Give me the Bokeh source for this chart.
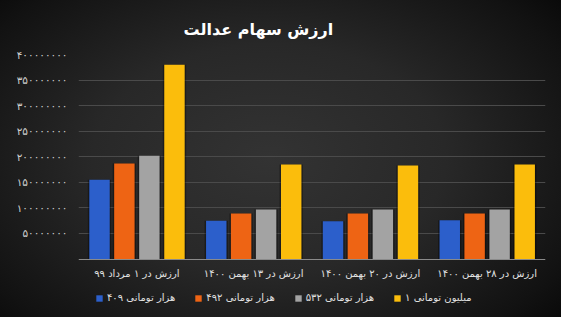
from bokeh.plotting import figure
from bokeh.models import FactorRange, FixedTicker, Legend, InlineStyleSheet, ColumnDataSource
from bokeh.transform import dodge
from bokeh.embed import file_html
from bokeh.resources import INLINE

title_text = "ارزش سهام عدالت"
categories = ["ارزش در ۱ مرداد ۹۹", "ارزش در ۱۳ بهمن ۱۴۰۰", "ارزش در ۲۰ بهمن ۱۴۰۰", "ارزش در ۲۸ بهمن ۱۴۰۰"]
series_names = ["۴۰۹ هزار تومانی", "۴۹۲ هزار تومانی", "۵۳۲ هزار تومانی", "۱ میلیون تومانی"]
s409 = [155e6, 75e6, 74e6, 76e6]
s492 = [187e6, 89e6, 89e6, 89e6]
s532 = [202e6, 97e6, 97e6, 97e6]
s1m = [380e6, 185e6, 183e6, 185e6]
tick_values = [50e6, 100e6, 150e6, 200e6, 250e6, 300e6, 350e6, 400e6]
tick_labels = ["۵۰۰۰۰۰۰۰", "۱۰۰۰۰۰۰۰۰", "۱۵۰۰۰۰۰۰۰", "۲۰۰۰۰۰۰۰۰",
               "۲۵۰۰۰۰۰۰۰", "۳۰۰۰۰۰۰۰۰", "۳۵۰۰۰۰۰۰۰", "۴۰۰۰۰۰۰۰۰"]

colors = ["#2C5FCB", "#EE6414", "#A3A3A3", "#FBBD0C"]
offsets = [-0.32, -0.107, 0.107, 0.322]
series = [s409, s492, s532, s1m]

font = "DejaVu Sans"

# layout: frame 54..310 px, value 0 sits at 258.5 px (room below for labels + legend)
Y_TOP = 400e6
FRAME_TOP, ZERO_PX, FRAME_BOTTOM = 54, 258.5, 310
y_start = -Y_TOP * (FRAME_BOTTOM - ZERO_PX) / (ZERO_PX - FRAME_TOP)

p = figure(width=561, height=317, x_range=FactorRange(*categories), y_range=(y_start, Y_TOP),
           output_backend="svg", toolbar_location=None)
p.stylesheets = [InlineStyleSheet(css=":host { background: radial-gradient(ellipse 70% 80% at 48% 50%, #333333 0%, #282828 45%, #121212 85%, #080808 100%); }")]
p.border_fill_alpha = 0
p.background_fill_alpha = 0
p.outline_line_color = None
p.min_border_left = 78
p.min_border_right = 16
p.min_border_top = FRAME_TOP
p.min_border_bottom = 317 - FRAME_BOTTOM

p.title.text = title_text
p.title.align = "left"
p.title.offset = 105
p.title.standoff = 32
p.title.text_color = "white"
p.title.text_font = font
p.title.text_font_style = "bold"
p.title.text_font_size = "16px"

data = {"cat": categories}
for i, s in enumerate(series):
    data[f"s{i}"] = s
src = ColumnDataSource(data)

for i, s in enumerate(series):
    p.vbar(x=dodge("cat", offsets[i], range=p.x_range), top=f"s{i}", width=0.2,
           source=src, fill_color="black", fill_alpha=0.35, line_color=None)

renderers = []
for i, s in enumerate(series):
    r = p.vbar(x=dodge("cat", offsets[i], range=p.x_range), top=f"s{i}", width=0.175,
               source=src, fill_color=colors[i], line_color=None)
    renderers.append(r)

p.yaxis.ticker = FixedTicker(ticks=tick_values)
p.yaxis.major_label_overrides = {v: l for v, l in zip(tick_values, tick_labels)}
p.yaxis.axis_line_color = None
p.yaxis.major_tick_line_color = None
p.yaxis.minor_tick_line_color = None
p.yaxis.major_tick_out = 0
p.yaxis.major_label_text_color = "#d0d0d0"
p.yaxis.major_label_text_font = font
p.yaxis.major_label_text_font_size = "10.5px"
p.yaxis.major_label_standoff = 11

p.xaxis.fixed_location = 0
p.xaxis.axis_line_color = "#8a8a8a"
p.xaxis.major_tick_line_color = None
p.xaxis.minor_tick_line_color = None
p.xaxis.major_tick_out = 0
p.xaxis.major_tick_in = 0
p.xaxis.major_label_text_color = "#e0e0e0"
p.xaxis.major_label_text_font = font
p.xaxis.major_label_text_font_size = "10px"
p.xaxis.major_label_standoff = 9

p.xgrid.grid_line_color = None
p.ygrid.grid_line_color = "#4a4a4a"
p.ygrid.grid_line_width = 1
p.x_range.range_padding = 0

legend = Legend(items=[(n, [r]) for n, r in zip(series_names, renderers)],
                orientation="horizontal", location=(17, 7))
legend.background_fill_alpha = 0
legend.border_line_color = None
legend.label_text_color = "#e0e0e0"
legend.label_text_font = font
legend.label_text_font_size = "10px"
legend.glyph_width = 8
legend.glyph_height = 8
legend.label_height = 10
legend.spacing = 19
legend.label_standoff = 4
legend.padding = 0
legend.margin = 0
p.add_layout(legend)

open("out.html", "w").write(file_html(p, INLINE))
